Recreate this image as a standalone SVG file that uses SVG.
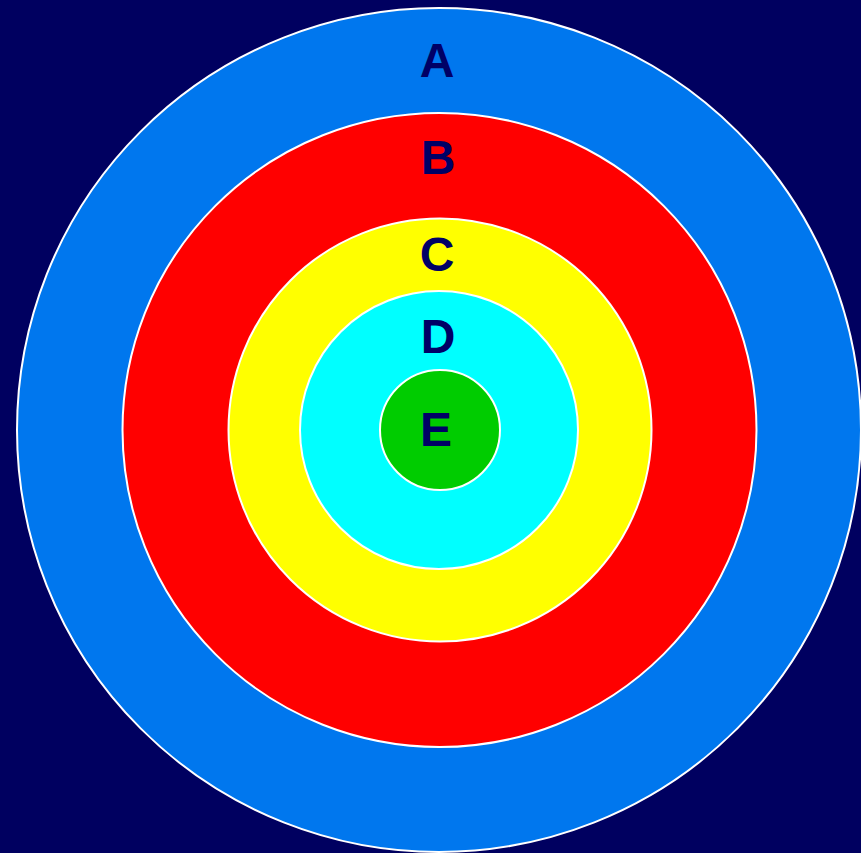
<svg xmlns="http://www.w3.org/2000/svg" width="861" height="853" viewBox="0 0 861 853">
<style>
.ring{stroke:#FFFFFF;stroke-width:2}
.lbl{font-family:"Liberation Sans",Arial,sans-serif;font-weight:bold;font-size:48px;fill:#000066;text-anchor:middle}
</style>
<rect x="0" y="0" width="861" height="853" fill="#000060"/>
<g id="A"><circle class="ring" cx="439" cy="430" r="422" fill="#0077EE"/><text class="lbl" x="437" y="77">A</text></g>
<g id="B"><circle class="ring" cx="439.5" cy="430" r="317" fill="#FF0000"/><text class="lbl" x="438" y="174">B</text></g>
<g id="C"><circle class="ring" cx="440" cy="430" r="211.5" fill="#FFFF00"/><text class="lbl" x="437" y="271">C</text></g>
<g id="D"><circle class="ring" cx="439" cy="430" r="139" fill="#00FFFF"/><text class="lbl" x="438" y="353">D</text></g>
<g id="E"><circle class="ring" cx="440" cy="430" r="60" fill="#00CC00"/><text class="lbl" x="436" y="446">E</text></g>
<g id="connectors"></g>
</svg>
